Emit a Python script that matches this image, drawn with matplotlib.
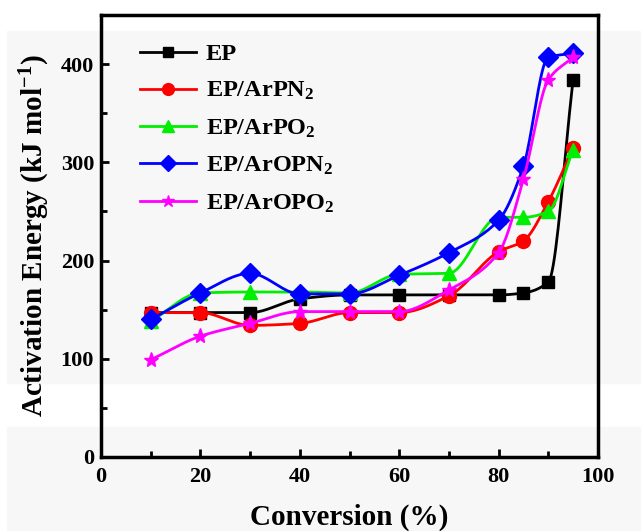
import numpy as np
import matplotlib.pyplot as plt
from matplotlib.patches import Rectangle
from matplotlib.ticker import MultipleLocator

plt.rcParams['font.family'] = 'Liberation Serif'
plt.rcParams['font.weight'] = 'bold'
plt.rcParams['mathtext.default'] = 'regular'

conversion = [10, 20, 30, 40, 50, 60, 70, 80, 85, 90, 95]
ep = [147, 147, 147, 161, 165, 165, 165, 165, 167, 178, 384]
ep_arpn2 = [147, 147, 134, 136, 147, 147, 164, 209, 220, 260, 315]
ep_arpo2 = [138, 167, 168, 168, 167, 186, 187, 244, 244, 250, 313]
ep_aropn2 = [140, 167, 187, 166, 166, 185, 208, 241, 296, 407, 411]
ep_aropo2 = [99, 123, 136, 148, 148, 148, 170, 208, 283, 384, 407]

names = ["EP", "EP/ArPN$_2$", "EP/ArPO$_2$", "EP/ArOPN$_2$", "EP/ArOPO$_2$"]
colors = ["black", "red", "#00ee00", "blue", "magenta"]
markers = ["s", "o", "^", "D", "*"]
msizes = [8, 10, 10, 10, 11]


def smooth(x, y, n=20):
	# monotone cubic curve through the points, only for drawing the line
	x = np.asarray(x, float)
	y = np.asarray(y, float)
	h = np.diff(x)
	d = np.diff(y) / h
	m = np.zeros_like(y)
	m[0], m[-1] = d[0], d[-1]
	for i in range(1, len(x) - 1):
		if d[i - 1] * d[i] > 0:
			w1 = 2 * h[i] + h[i - 1]
			w2 = h[i] + 2 * h[i - 1]
			m[i] = (w1 + w2) / (w1 / d[i - 1] + w2 / d[i])
	xs, ys = [], []
	for i in range(len(x) - 1):
		t = np.linspace(0, 1, n, endpoint=False)
		h00 = 2 * t**3 - 3 * t**2 + 1
		h10 = t**3 - 2 * t**2 + t
		h01 = -2 * t**3 + 3 * t**2
		h11 = t**3 - t**2
		xs.append(x[i] + t * h[i])
		ys.append(h00 * y[i] + h10 * h[i] * m[i] + h01 * y[i + 1] + h11 * h[i] * m[i + 1])
	xs.append([x[-1]])
	ys.append([y[-1]])
	return np.concatenate(xs), np.concatenate(ys)


fig = plt.figure(figsize=(6.43, 5.31), dpi=100)
# light grey scan bands of the original picture
fig.patches.append(Rectangle((7 / 643, (531 - 383) / 531), 633 / 643, 352 / 531,
	transform=fig.transFigure, color="#f7f7f7", zorder=-10))
fig.patches.append(Rectangle((7 / 643, 0), 633 / 643, (531 - 427) / 531,
	transform=fig.transFigure, color="#f7f7f7", zorder=-10))

ax = fig.add_axes([101 / 643, 74 / 531, 497 / 643, 442 / 531])
ax.set_facecolor("none")

series = [ep, ep_arpn2, ep_arpo2, ep_aropn2, ep_aropo2]
for ys, name, c, mk, ms in zip(series, names, colors, markers, msizes):
	sx, sy = smooth(conversion, ys)
	ax.plot(sx, sy, color=c, lw=2)
	ax.plot(conversion, ys, ls="none", marker=mk, ms=ms, color=c)
	ax.plot([], [], color=c, lw=2, marker=mk, ms=ms * 0.85, label=name)

ax.set_xlim(0, 100)
ax.set_ylim(0, 450)
ax.xaxis.set_major_locator(MultipleLocator(20))
ax.xaxis.set_minor_locator(MultipleLocator(10))
ax.yaxis.set_major_locator(MultipleLocator(100))
ax.yaxis.set_minor_locator(MultipleLocator(50))
ax.tick_params(which="both", direction="in", labelsize=16, width=2)
ax.tick_params(which="major", length=6)
ax.tick_params(which="minor", length=4)
ax.tick_params(axis="x", pad=7)
ax.tick_params(axis="y", pad=5)
for s in ax.spines.values():
	s.set_linewidth(2.5)

ax.set_xlabel("Conversion (%)", fontsize=21, fontweight="bold", labelpad=12)
ax.set_ylabel("Activation Energy (kJ mol$^{-1}$)", fontsize=21, fontweight="bold", labelpad=6)

ax.legend(loc="upper left", frameon=False, fontsize=17.5, handlelength=2.3,
	handletextpad=0.4, labelspacing=0.62, borderaxespad=0.3,
	bbox_to_anchor=(0.045, 0.975))

fig.savefig("out.png", dpi=100)
